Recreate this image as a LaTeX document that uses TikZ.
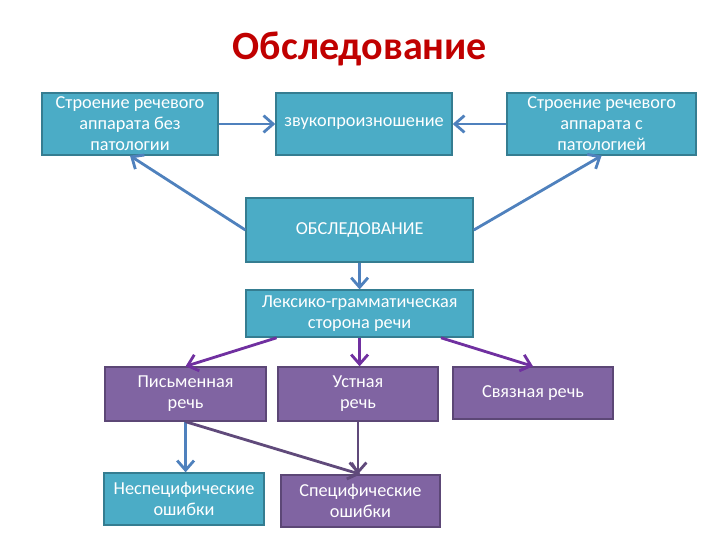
\documentclass[tikz,border=0pt]{standalone}
\usepackage{fontspec}
\setmainfont{Carlito}
\usepackage{xcolor}
\definecolor{titleRed}  {HTML}{C00000}
\definecolor{tealBack}  {HTML}{4BACC6}
\definecolor{tealEdge}  {HTML}{357D91}
\definecolor{plumBack}  {HTML}{8064A2}
\definecolor{plumEdge}  {HTML}{5C4776}
\definecolor{linkBlue}  {HTML}{4F81BD}
\definecolor{linkPurple}{HTML}{7030A0}
\definecolor{linkDark}  {HTML}{604A7B}
\usetikzlibrary{arrows.meta, positioning, calc}

\begin{document}
\begin{tikzpicture}[
    every node/.style={font=\fontsize{13}{15}\selectfont},
    tealbox/.style={draw=tealEdge, fill=tealBack, text=white, align=center,
                line width=1pt, inner sep=2pt},
    plumbox/.style={draw=plumEdge, fill=plumBack, text=white, align=center,
                line width=1pt, inner sep=2pt},
    link/.style={-{Straight Barb[length=2.4mm, width=4.2mm]}, line width=2pt}
]
\useasboundingbox (0,0) rectangle (18,-13.5);
% Title
\node[font=\fontsize{28.5}{32}\selectfont\bfseries, text=titleRed] (title) at (9, -1.22) {Обследование};
% Top row
\node[tealbox, minimum width=44mm, minimum height=15.5mm] (lpat) at (3.25, -3.1)
    {Строение речевого\\аппарата без\\патологии};
\node[tealbox, minimum width=44mm, minimum height=15.5mm] (snd) at (9.1, -3.1)
    {звукопроизношение};
\node[tealbox, minimum width=47.25mm, minimum height=15.5mm] (rpat) at (15.04, -3.1)
    {Строение речевого\\аппарата с\\патологией};
% Middle
\node[tealbox, minimum width=56.75mm, minimum height=16mm] (exam) at (8.99, -5.75)
    {ОБСЛЕДОВАНИЕ};
\node[tealbox, minimum width=56.75mm, minimum height=11.75mm] (lex) at (8.99, -7.84)
    {Лексико-грамматическая\\сторона речи};
% Speech row
\node[plumbox, minimum width=40.25mm, minimum height=13.5mm] (writ) at (4.64, -9.85)
    {Письменная\\речь};
\node[plumbox, minimum width=40mm, minimum height=13.5mm] (oral) at (8.95, -9.85)
    {Устная\\речь};
\node[plumbox, minimum width=40mm, minimum height=13mm] (cohr) at (13.325, -9.825)
    {Связная речь};
% Errors
\node[tealbox, minimum width=40mm, minimum height=13mm] (nonsp) at (4.6, -12.475)
    {Неспецифические\\ошибки};
\node[plumbox, minimum width=39.75mm, minimum height=13mm] (spec) at (9.01, -12.525)
    {Специфические\\ошибки};
% Links
\draw[link, linkBlue] (lpat) -- (snd);
\draw[link, linkBlue] (rpat) -- (snd);
\draw[link, linkBlue] (exam.west) -- (lpat.south);
\draw[link, linkBlue] (exam.east) -- (rpat.south);
\draw[link, linkBlue] (exam) -- (lex);
\draw[link, linkPurple] ($(lex.south west)+(0.78,0)$) -- (writ.north);
\draw[link, linkPurple] (lex.south) -- (lex.south |- oral.north);
\draw[link, linkPurple] ($(lex.south east)+(-0.82,0)$) -- (cohr.north);
\draw[link, linkBlue] (writ.south) -- (writ.south |- nonsp.north);
\draw[link, linkDark] (writ.south) -- (spec.north);
\draw[link, linkDark] (oral.south) -- (oral.south |- spec.north);
\end{tikzpicture}
\end{document}
